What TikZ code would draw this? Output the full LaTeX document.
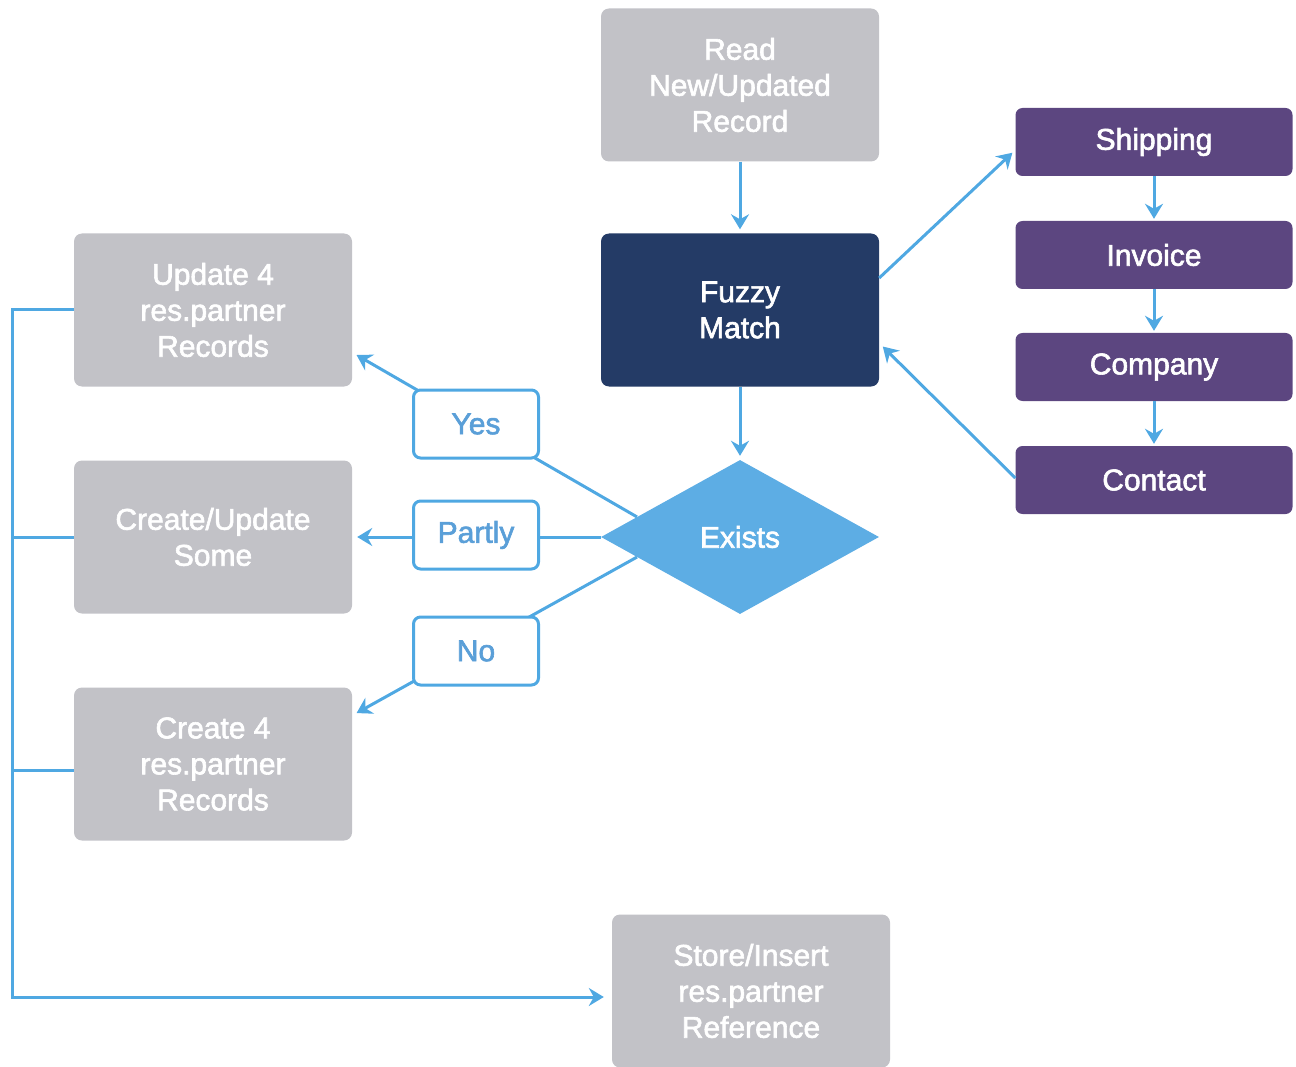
\documentclass[tikz,border=0pt]{standalone}
\usepackage{fontspec}
\setmainfont{Liberation Sans}[BoldFont=Liberation Sans, BoldFeatures={FakeBold=2}]
\usetikzlibrary{shapes.geometric,arrows.meta,calc}
\definecolor{boxgray}{HTML}{C2C2C7}
\definecolor{navy}{HTML}{243B66}
\definecolor{plum}{HTML}{5C4680}
\definecolor{lineblue}{HTML}{4FA8E2}
\definecolor{diamondblue}{HTML}{5DADE4}
\definecolor{labelblue}{HTML}{5A9FD8}
\begin{document}
\begin{tikzpicture}[x=1pt,y=-1pt,
  txt/.style={font=\fontsize{30}{36}\selectfont\bfseries, align=center},
  greybox/.style={txt, rectangle, rounded corners=8pt, fill=boxgray, text=white,
    minimum width=278pt, minimum height=153pt, inner sep=0pt},
  navybox/.style={greybox, fill=navy},
  plumbox/.style={txt, rectangle, rounded corners=7pt, fill=plum, text=white,
    minimum width=277pt, minimum height=68pt, inner sep=0pt},
  tagbox/.style={txt, rectangle, rounded corners=7pt, fill=white, draw=lineblue,
    line width=3pt, text=labelblue, minimum width=125pt, minimum height=68pt, inner sep=0pt},
  link/.style={draw=lineblue, line width=3pt},
  flow/.style={link, -{Stealth[length=15pt,width=18pt,inset=5pt]}}]
\useasboundingbox (0,0) rectangle (1296,1067);

% process boxes
\node[greybox] (rd) at (740,85) {Read\\New/Updated\\Record};
\node[navybox] (fz) at (740,310) {Fuzzy\\Match};
\node[diamond, aspect=1.8, fill=diamondblue, text=white, txt,
  minimum width=278pt, minimum height=154pt, inner sep=0pt] (ex) at (740,537) {Exists};
\node[greybox] (up) at (213,310) {Update 4\\res.partner\\Records};
\node[greybox] (cu) at (213,537) {Create/Update\\Some};
\node[greybox] (c4) at (213,764) {Create 4\\res.partner\\Records};
\node[greybox] (st) at (751,991) {Store/Insert\\res.partner\\Reference};

% address types
\node[plumbox] (sh) at (1154,142) {Shipping};
\node[plumbox] (iv) at (1154,255) {Invoice};
\node[plumbox] (co) at (1154,367) {Company};
\node[plumbox] (ct) at (1154,480) {Contact};

% main flow
\draw[flow, shorten >=4pt] (rd.south) -- (fz.north);
\draw[flow, shorten >=4pt] (fz.south) -- (ex.north);
\draw[flow, shorten >=4pt] ($(fz.east)+(0,-32)$) -- ($(sh.west)+(0,8)$);
\draw[flow, shorten >=2pt] (sh.south) -- (iv.north);
\draw[flow, shorten >=2pt] (iv.south) -- (co.north);
\draw[flow, shorten >=2pt] (co.south) -- (ct.north);
\draw[flow, shorten >=5pt] ($(ct.west)+(0,-2)$) -- ($(fz.east)+(0,33)$);

% decision branches
\coordinate (yesfrom) at ($(ex.west)!0.26!(ex.north)$);
\coordinate (nofrom) at ($(ex.west)!0.26!(ex.south)$);
\draw[flow, shorten >=5pt] (yesfrom) -- ($(up.east)+(0,42.5)$);
\draw[flow, shorten >=5pt] (ex.west) -- (cu.east);
\draw[flow, shorten >=5pt] (nofrom) -- ($(c4.east)+(0,-48.5)$);
\node[tagbox] (yes) at (476,424) {Yes};
\node[tagbox] (partly) at (476,535) {Partly};
\node[tagbox] (no) at (476,651) {No};

% collecting bus to the store
\coordinate (bus) at (12,997);
\draw[flow, shorten >=8pt, line join=miter] (up.west) -| (bus) -- ($(st.west)+(0,6)$);
\draw[link] (cu.west) -- (cu.west -| bus);
\draw[link] ($(c4.west)+(0,6)$) -- ($(c4.west -| bus)+(0,6)$);
\end{tikzpicture}
\end{document}
